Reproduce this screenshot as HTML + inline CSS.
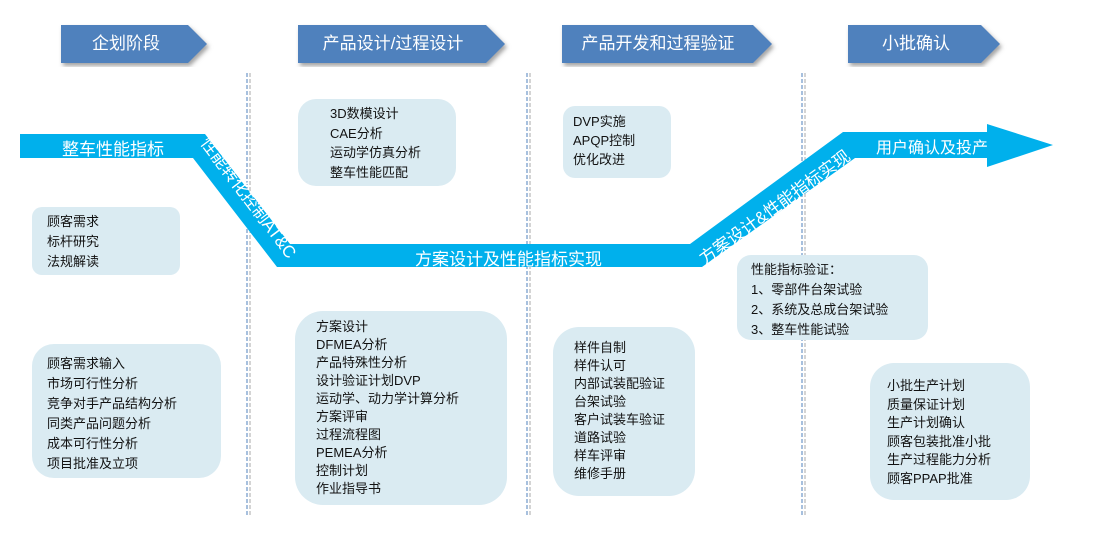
<!DOCTYPE html>
<html><head><meta charset="utf-8"><style>
body{margin:0;width:1094px;height:542px;background:#fff;position:relative;overflow:hidden;font-family:"Liberation Sans","Noto Sans CJK SC",sans-serif;}
.box{position:absolute;background:#daebf2;border-radius:18px;}
.t{position:absolute;font-size:13px;color:#111;white-space:nowrap;}
.hd{position:absolute;color:#fff;font-size:17px;text-align:center;line-height:38px;}
.w{position:absolute;color:#fff;white-space:nowrap;font-size:15px;}
</style></head><body>
<svg width="1094" height="542" style="position:absolute;left:0;top:0">
<defs><filter id="sh"><feDropShadow dx="2" dy="3" stdDeviation="2" flood-color="#666" flood-opacity="0.6"/></filter></defs>
<g fill="#4f81bd" filter="url(#sh)">
<polygon points="61,25 188,25 207,44 188,63 61,63"/>
<polygon points="298,25 486,25 505,44 486,63 298,63"/>
<polygon points="562,25 753,25 772,44 753,63 562,63"/>
<polygon points="848,25 981,25 1000,44 981,63 848,63"/>
</g>
<g stroke-dasharray="4,2" stroke-width="1">
<line x1="247" y1="73" x2="247" y2="515" stroke="#4f81bd"/><line x1="250" y1="73" x2="250" y2="515" stroke="#aaa"/>
<line x1="527" y1="73" x2="527" y2="515" stroke="#4f81bd"/><line x1="530" y1="73" x2="530" y2="515" stroke="#aaa"/>
<line x1="802" y1="73" x2="802" y2="515" stroke="#4f81bd"/><line x1="805" y1="73" x2="805" y2="515" stroke="#aaa"/>
</g>
</svg>
<div class="hd" style="left:61px;top:25px;width:130px">企划阶段</div>
<div class="hd" style="left:298px;top:25px;width:190px">产品设计/过程设计</div>
<div class="hd" style="left:562px;top:25px;width:192px">产品开发和过程验证</div>
<div class="hd" style="left:848px;top:25px;width:136px">小批确认</div>

<div class="box" style="left:298px;top:99px;width:158px;height:87px"></div>
<div class="box" style="left:32px;top:207px;width:148px;height:68px;border-radius:10px"></div>
<div class="box" style="left:32px;top:344px;width:189px;height:134px;border-radius:22px"></div>
<div class="box" style="left:295px;top:311px;width:212px;height:194px;border-radius:28px"></div>
<div class="box" style="left:563px;top:106px;width:108px;height:72px;border-radius:12px"></div>
<div class="box" style="left:553px;top:327px;width:142px;height:169px;border-radius:26px"></div>
<div class="box" style="left:737px;top:255px;width:191px;height:85px;border-radius:14px"></div>
<div class="box" style="left:870px;top:363px;width:160px;height:137px;border-radius:24px"></div>

<svg width="1094" height="542" style="position:absolute;left:0;top:0">
<polygon fill="#00b0ec" points="20,134 205,134 290,244 690,244 843,132 987,132 987,124 1053,145 987,167 987,158 855,158 702,267 277,267 193,158 20,158"/>
</svg>
<div class="w" style="left:62px;top:135px;font-size:17px">整车性能指标</div>
<div class="w" style="left:415px;top:245px;font-size:17px">方案设计及性能指标实现</div>
<div class="w" style="left:876px;top:134px;font-size:16px">用户确认及投产</div>
<div class="w" style="font-size:17px;transform:rotate(53deg);transform-origin:0 0;left:216px;top:131px">性能转化控制AT&amp;C</div>
<div class="w" style="font-size:17px;transform:rotate(-36deg);transform-origin:0 0;left:693px;top:249px">方案设计&amp;性能指标实现</div>

<div class="t" style="left:330px;top:104px;line-height:19.5px">3D数模设计<br>CAE分析<br>运动学仿真分析<br>整车性能匹配</div>
<div class="t" style="left:47px;top:212px;line-height:20px">顾客需求<br>标杆研究<br>法规解读</div>
<div class="t" style="left:47px;top:354px;line-height:20px">顾客需求输入<br>市场可行性分析<br>竞争对手产品结构分析<br>同类产品问题分析<br>成本可行性分析<br>项目批准及立项</div>
<div class="t" style="left:316px;top:318px;line-height:18px">方案设计<br>DFMEA分析<br>产品特殊性分析<br>设计验证计划DVP<br>运动学、动力学计算分析<br>方案评审<br>过程流程图<br>PEMEA分析<br>控制计划<br>作业指导书</div>
<div class="t" style="left:573px;top:112px;line-height:19px">DVP实施<br>APQP控制<br>优化改进</div>
<div class="t" style="left:574px;top:339px;line-height:18px">样件自制<br>样件认可<br>内部试装配验证<br>台架试验<br>客户试装车验证<br>道路试验<br>样车评审<br>维修手册</div>
<div class="t" style="left:751px;top:260px;line-height:20px">性能指标验证：<br>1、零部件台架试验<br>2、系统及总成台架试验<br>3、整车性能试验</div>
<div class="t" style="left:887px;top:377px;line-height:18.5px">小批生产计划<br>质量保证计划<br>生产计划确认<br>顾客包装批准小批<br>生产过程能力分析<br>顾客PPAP批准</div>
</body></html>
